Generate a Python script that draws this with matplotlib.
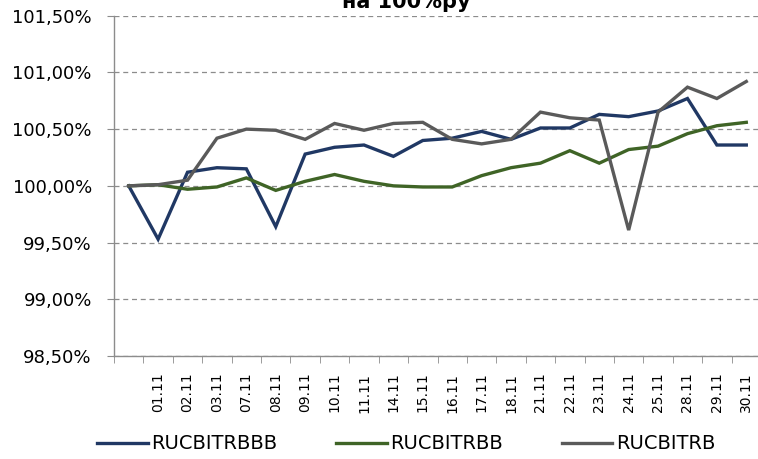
import matplotlib.pyplot as plt
from matplotlib.ticker import FuncFormatter, MultipleLocator

# first point is the base (100%), it has no date label
dates = ["", "01.11", "02.11", "03.11", "07.11", "08.11", "09.11", "10.11",
         "11.11", "14.11", "15.11", "16.11", "17.11", "18.11", "21.11",
         "22.11", "23.11", "24.11", "25.11", "28.11", "29.11", "30.11"]

rucbitrbbb = [100.00, 99.53, 100.12, 100.16, 100.15, 99.64, 100.28, 100.34,
              100.36, 100.26, 100.40, 100.42, 100.48, 100.41, 100.51, 100.51,
              100.63, 100.61, 100.66, 100.77, 100.36, 100.36]
rucbitrbb = [100.00, 100.01, 99.97, 99.99, 100.07, 99.96, 100.04, 100.10,
             100.04, 100.00, 99.99, 99.99, 100.09, 100.16, 100.20, 100.31,
             100.20, 100.32, 100.35, 100.46, 100.53, 100.56]
rucbitrb = [100.00, 100.01, 100.05, 100.42, 100.50, 100.49, 100.41, 100.55,
            100.49, 100.55, 100.56, 100.41, 100.37, 100.41, 100.65, 100.60,
            100.58, 99.61, 100.65, 100.87, 100.77, 100.92]

series = [("RUCBITRBBB", rucbitrbbb, "#203864"),
          ("RUCBITRBB", rucbitrbb, "#3f6426"),
          ("RUCBITRB", rucbitrb, "#5a5a5a")]

fig = plt.figure(figsize=(7.58, 4.59), dpi=100)
ax = fig.add_axes([114 / 758, 1 - 356 / 459, 647 / 758, 340.3 / 459])

x = list(range(len(dates)))
for name, vals, color in series:
    ax.plot(x, vals, color=color, lw=2.4, label=name, solid_joinstyle="miter")

# y axis
ax.set_ylim(98.5, 101.5)
ax.yaxis.set_major_locator(MultipleLocator(0.5))
ax.yaxis.set_major_formatter(FuncFormatter(lambda v, p: f"{v:.2f}%".replace(".", ",")))
ax.grid(axis="y", color="#8c8c8c", linestyle=(0, (4, 3)), lw=0.9)
ax.tick_params(axis="y", labelsize=13, length=5, color="#8c8c8c", pad=11)

# x axis: labels at category centres, tick marks at boundaries
ax.set_xlim(-0.5, len(dates) - 0.5)
ax.set_xticks(x)
ax.set_xticklabels(dates, rotation=90, fontsize=10)
ax.set_xticks([i - 0.5 for i in range(len(dates) + 1)], minor=True)
ax.tick_params(axis="x", which="major", length=0, pad=12)
ax.tick_params(axis="x", which="minor", length=5, color="#8c8c8c")

for s in ["top", "right"]:
    ax.spines[s].set_visible(False)
for s in ["left", "bottom"]:
    ax.spines[s].set_color("#8c8c8c")
    ax.spines[s].set_linewidth(1.0)

fig.legend(loc="center", bbox_to_anchor=(0.536, 0.033), ncol=3, frameon=False,
           fontsize=14, handlelength=2.6, handletextpad=0.2, columnspacing=3.0)

# title is cut off by the top edge in the original
fig.text(0.536, 1 - 8 / 459, "на 100%ру", ha="center", va="baseline",
         fontsize=15, fontweight="bold")

fig.savefig("out.png", dpi=100)
